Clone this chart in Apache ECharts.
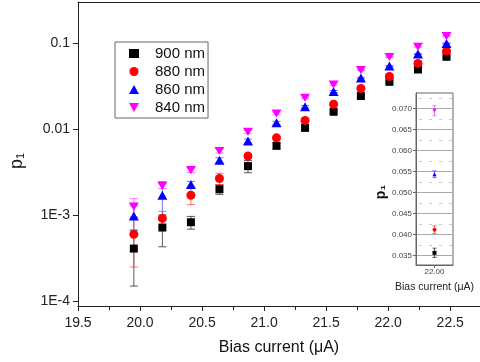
<!DOCTYPE html>
<html>
<head>
<meta charset="utf-8">
<script src="https://cdn.jsdelivr.net/npm/echarts@6/dist/echarts.min.js"></script>
<style>
  html, body { margin: 0; padding: 0; background: #fff; }
  #chart { width: 480px; height: 362px; }
</style>
</head>
<body>
<div id="chart"></div>
<script>
// bias current (uA) for each column of points
const biasCurrent = [19.95, 20.18, 20.41, 20.64, 20.87, 21.10, 21.33, 21.56, 21.78, 22.01, 22.24, 22.47];

// p1 per wavelength
const p900 = [4.1e-4, 7.2e-4, 8.3e-4, 2.01e-3, 3.73e-3, 6.43e-3, 1.04e-2, 1.60e-2, 2.44e-2, 3.57e-2, 4.97e-2, 6.98e-2];
const p880 = [6.0e-4, 9.2e-4, 1.71e-3, 2.68e-3, 4.88e-3, 7.96e-3, 1.27e-2, 1.96e-2, 2.99e-2, 4.12e-2, 5.85e-2, 8.13e-2];
const p860 = [9.8e-4, 1.71e-3, 2.28e-3, 4.37e-3, 7.3e-3, 1.19e-2, 1.83e-2, 2.76e-2, 3.95e-2, 5.44e-2, 7.5e-2, 0.100];
const p840 = [1.26e-3, 2.2e-3, 3.35e-3, 5.6e-3, 9.35e-3, 1.53e-2, 2.33e-2, 3.33e-2, 4.89e-2, 6.95e-2, 9.13e-2, 0.1216];

// error bars
const e900 = [2.6e-4, 2.9e-4, 1.4e-4, 2.6e-4, 6e-4, 5e-4, 6e-4, 7e-4, 8e-4, 1.0e-3, 1.2e-3, 1.4e-3];
const e880 = [3.5e-4, 1.9e-4, 3.8e-4, 4e-4, 3e-4, 4e-4, 5e-4, 6e-4, 7e-4, 8e-4, 1.0e-3, 1.2e-3];
const e860 = [3.1e-4, 7.5e-4, 2e-4, 3e-4, 4e-4, 5e-4, 6e-4, 7e-4, 8e-4, 9e-4, 1.0e-3, 1.2e-3];
const e840 = [3e-4, 1.5e-4, 2e-4, 3e-4, 4e-4, 5e-4, 6e-4, 7e-4, 8e-4, 1.0e-3, 1.2e-3, 1.4e-3];

// inset: zoom on the 22.00 uA column
const insetX = [22.0];
const inset900 = [0.0357], insetErr900 = [0.0011];
const inset880 = [0.0412], insetErr880 = [0.0009];
const inset860 = [0.0544], insetErr860 = [0.0008];
const inset840 = [0.0695], insetErr840 = [0.0012];

const legendNames = ["900 nm", "880 nm", "860 nm", "840 nm"];
const xTicks = [19.5, 20.0, 20.5, 21.0, 21.5, 22.0, 22.5];
const yTicks = [1e-4, 1e-3, 1e-2, 1e-1];
const yMinorTicks = [9e-5, 2e-4, 3e-4, 4e-4, 5e-4, 6e-4, 7e-4, 8e-4, 9e-4,
  2e-3, 3e-3, 4e-3, 5e-3, 6e-3, 7e-3, 8e-3, 9e-3,
  2e-2, 3e-2, 4e-2, 5e-2, 6e-2, 7e-2, 8e-2, 9e-2, 0.2, 0.3];
const insetYTicks = [0.035, 0.040, 0.045, 0.050, 0.055, 0.060, 0.065, 0.070];
const insetYMinor = [0.0375, 0.0425, 0.0475, 0.0525, 0.0575, 0.0625, 0.0675, 0.0725];

const FONT = "Liberation Sans, Arial, sans-serif";
const AXIS = "#222";
const downTri = "path://M0,0L10,0L5,9Z";

const styles = [
  { color: "#000000", err: "rgba(60,60,60,0.85)", symbol: "rect", size: 8 },
  { color: "#ff0000", err: "rgba(255,70,70,0.8)", symbol: "circle", size: 9 },
  { color: "#0000ff", err: "rgba(80,80,255,0.8)", symbol: "triangle", size: [10, 9] },
  { color: "#ff00ff", err: "rgba(255,80,255,0.8)", symbol: downTri, size: [10, 9] },
];

const mainVals = [p900, p880, p860, p840];
const mainErrs = [e900, e880, e860, e840];
const insetVals = [inset900, inset880, inset860, inset840];
const insetErrs = [insetErr900, insetErr880, insetErr860, insetErr840];

function errorBars(name, xs, vals, errs, color, xi, yi, cap) {
  return {
    type: "custom",
    name: name + " err",
    xAxisIndex: xi,
    yAxisIndex: yi,
    silent: true,
    z: 2,
    encode: { x: 0, y: [1, 2] },
    data: vals.map((v, i) => [xs[i], v - errs[i], v + errs[i]]),
    renderItem(params, api) {
      const lo = api.coord([api.value(0), api.value(1)]);
      const hi = api.coord([api.value(0), api.value(2)]);
      const style = { stroke: color, lineWidth: 1 };
      return {
        type: "group",
        children: [
          { type: "line", shape: { x1: lo[0], y1: lo[1], x2: hi[0], y2: hi[1] }, style },
          { type: "line", shape: { x1: lo[0] - cap, y1: lo[1], x2: lo[0] + cap, y2: lo[1] }, style },
          { type: "line", shape: { x1: hi[0] - cap, y1: hi[1], x2: hi[0] + cap, y2: hi[1] }, style },
        ],
      };
    },
  };
}

const series = [];
legendNames.forEach((name, k) => {
  const s = styles[k];
  series.push(errorBars(name, biasCurrent, mainVals[k], mainErrs[k], s.err, 0, 0, 4));
  series.push({
    type: "scatter",
    name,
    xAxisIndex: 0,
    yAxisIndex: 0,
    symbol: s.symbol,
    symbolSize: s.size,
    symbolKeepAspect: true,
    itemStyle: { color: s.color, opacity: 1 },
    z: 3,
    data: biasCurrent.map((x, i) => [x, mainVals[k][i]]),
  });
  series.push(errorBars(name + " inset", insetX, insetVals[k], insetErrs[k], s.err, 2, 2, 2));
  series.push({
    type: "scatter",
    name: name + " inset",
    xAxisIndex: 2,
    yAxisIndex: 2,
    symbol: s.symbol,
    symbolSize: Array.isArray(s.size) ? [4, 4] : 4,
    itemStyle: { color: s.color, opacity: 1 },
    z: 3,
    data: insetX.map((x, i) => [x, insetVals[k][i]]),
  });
});

const chart = echarts.init(document.getElementById("chart"), null, { renderer: "canvas" });
chart.setOption({
  animation: false,
  textStyle: { fontFamily: FONT, color: AXIS },
  legend: {
    data: legendNames,
    orient: "vertical",
    left: 115,
    top: 42,
    padding: [4, 3, 3, 14],
    itemWidth: 10,
    itemHeight: 9,
    itemGap: 3,
    symbolKeepAspect: true,
    borderColor: "#666",
    borderWidth: 1,
    textStyle: { fontSize: 15, color: "#111", fontFamily: FONT, lineHeight: 15, padding: [0, 0, 0, 11] },
  },
  grid: [
    { left: 70, top: 2, right: 0, bottom: 56 },
    { left: 416, top: 93, width: 37, height: 172, show: true, borderColor: "#666", borderWidth: 1 },
  ],
  xAxis: [
    {
      gridIndex: 0,
      type: "value",
      min: 19.5,
      max: 22.74,
      interval: 0.5,
      name: "Bias current (\u03bcA)",
      nameLocation: "middle",
      nameGap: 34,
      nameTextStyle: { fontSize: 16, color: "#111", fontFamily: FONT },
      axisLine: { lineStyle: { color: AXIS, width: 1 } },
      axisTick: { length: 5, lineStyle: { color: AXIS } },
      minorTick: { show: true, splitNumber: 2, length: 4, lineStyle: { color: AXIS } },
      axisLabel: { fontSize: 14, color: AXIS, margin: 10, formatter: (v) => v.toFixed(1), customValues: xTicks },
      splitLine: { show: false },
    },
    {
      gridIndex: 0,
      type: "value",
      position: "top",
      min: 19.5,
      max: 22.74,
      axisLine: { show: true, lineStyle: { color: AXIS, width: 1 } },
      axisTick: { show: false },
      axisLabel: { show: false },
      splitLine: { show: false },
    },
    {
      gridIndex: 1,
      type: "value",
      min: 21.9,
      max: 22.1,
      name: "Bias current (\u03bcA)",
      nameLocation: "middle",
      nameGap: 17,
      nameTextStyle: { fontSize: 10.5, color: "#222", fontFamily: FONT },
      axisLine: { lineStyle: { color: "#666" } },
      axisTick: { length: 3, customValues: insetX, lineStyle: { color: "#666" } },
      axisLabel: { fontSize: 8, color: "#444", margin: 3, customValues: insetX, formatter: (v) => v.toFixed(2) },
      splitLine: { show: false },
    },
  ],
  yAxis: [
    {
      gridIndex: 0,
      type: "log",
      min: 8.8e-5,
      max: 0.303,
      name: "p\u2081",
      nameLocation: "middle",
      nameRotate: 90,
      nameGap: 52,
      nameTextStyle: { fontFamily: FONT, fontSize: 18, color: "#111", padding: [0, 14, 0, 0] },
      axisLine: { show: true, lineStyle: { color: AXIS, width: 1 } },
      axisTick: { show: true, length: 5, customValues: yTicks, lineStyle: { color: AXIS } },
      axisLabel: {
        fontSize: 14,
        color: AXIS,
        margin: 8,
        customValues: yTicks,
        formatter: (v) => (v >= 0.01 ? String(+v.toPrecision(3)) : "1E" + Math.round(Math.log10(v))),
      },
      splitLine: { show: false },
    },
    {
      gridIndex: 0,
      type: "log",
      min: 8.8e-5,
      max: 0.303,
      axisLine: { show: false },
      axisTick: { show: true, length: 3, customValues: yMinorTicks, lineStyle: { color: AXIS } },
      axisLabel: { show: false },
      splitLine: { show: false },
    },
    {
      gridIndex: 1,
      type: "value",
      min: 0.0328,
      max: 0.0737,
      name: "p\u2081",
      nameLocation: "middle",
      nameRotate: 90,
      nameGap: 28,
      nameTextStyle: { fontFamily: FONT, fontSize: 14, fontWeight: "bold", color: "#111", padding: [0, 26, 0, 0] },
      axisLine: { show: true, lineStyle: { color: "#666" } },
      axisTick: { show: true, length: 3, customValues: insetYTicks, lineStyle: { color: "#666" } },
      axisLabel: { fontSize: 8, color: "#444", margin: 4, customValues: insetYTicks, formatter: (v) => v.toFixed(3) },
      splitLine: { show: true, lineStyle: { color: "#aaa", width: 1 } },
    },
    {
      gridIndex: 1,
      type: "value",
      min: 0.0328,
      max: 0.0737,
      axisLine: { show: false },
      axisTick: { show: false, customValues: insetYMinor },
      axisLabel: { show: false, customValues: insetYMinor },
      splitLine: { show: true, lineStyle: { color: "#ccc", width: 1, type: [3, 7], dashOffset: 7 } },
    },
  ],
  series,
});
</script>
</body>
</html>
